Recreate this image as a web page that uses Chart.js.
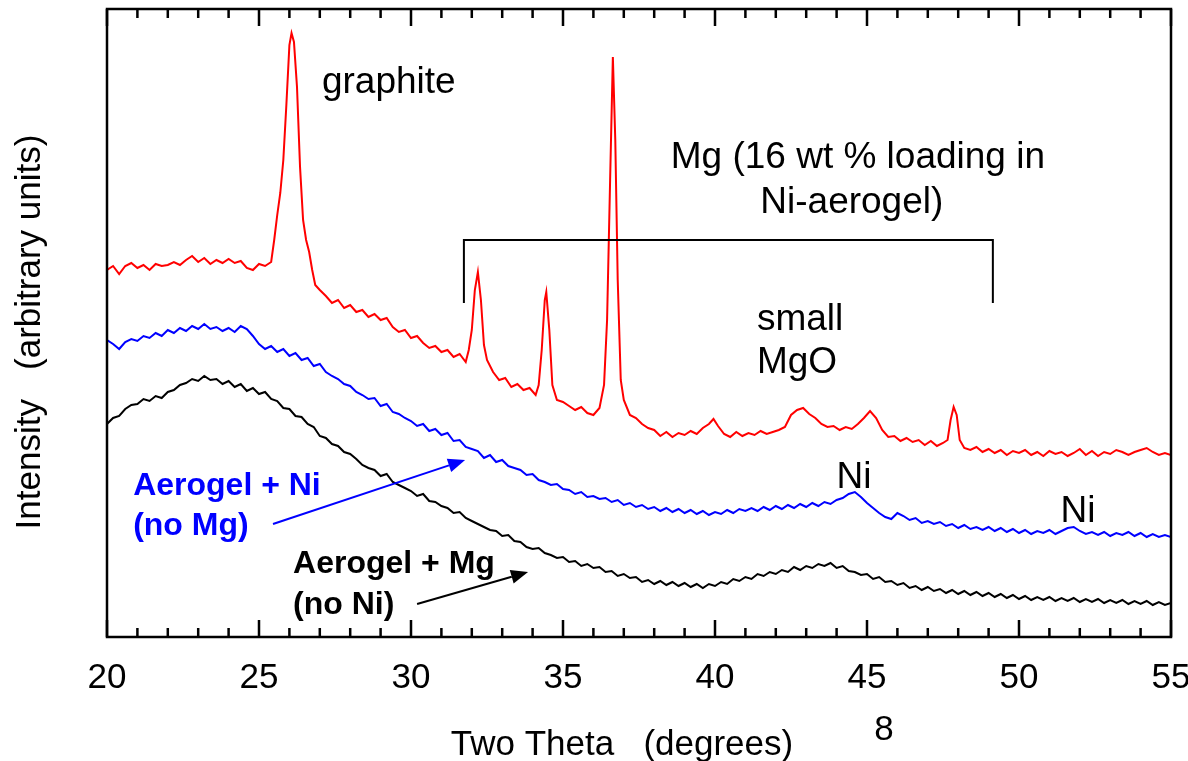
<!DOCTYPE html>
<html>
<head>
<meta charset="utf-8">
<script src="https://cdn.jsdelivr.net/npm/chart.js@4.4.1/dist/chart.umd.min.js"></script>
<style>
  html, body { margin: 0; padding: 0; background: #fff; }
  canvas { display: block; }
</style>
</head>
<body>
<canvas id="xrd" width="1188" height="761"></canvas>
<script>
// Two theta positions (degrees) and intensities (arbitrary units)
const redTheta = [
  20.0,20.2,20.4,20.6,20.8,21.0,21.2,21.4,21.6,21.8,
  22.0,22.2,22.4,22.6,22.8,23.0,23.2,23.4,23.6,23.8,
  24.0,24.2,24.4,24.6,24.8,25.0,25.2,25.4,
  25.5,25.6,25.7,25.8,25.9,26.0,26.07,26.15,26.25,26.35,26.45,26.55,26.65,26.75,26.85,
  27.0,27.2,27.4,27.6,27.8,28.0,28.2,28.4,28.6,28.8,
  29.0,29.2,29.4,29.6,29.8,30.0,30.2,30.4,30.6,30.8,
  31.0,31.2,31.4,31.6,31.8,31.9,32.0,32.1,32.2,32.3,32.4,32.5,32.7,32.9,
  33.1,33.3,33.5,33.7,33.9,34.1,34.2,34.3,34.4,34.45,34.55,34.65,34.8,
  35.0,35.2,35.4,35.6,35.8,36.0,36.2,36.35,36.45,36.55,36.64,36.72,36.8,36.9,
  37.0,37.2,37.4,37.6,37.8,38.0,38.2,38.4,38.6,38.8,
  39.0,39.2,39.4,39.6,39.8,39.95,40.1,40.3,40.5,40.7,40.9,
  41.1,41.3,41.5,41.7,41.9,42.1,42.3,42.5,42.7,42.9,
  43.1,43.3,43.5,43.7,43.9,44.1,44.3,44.5,44.7,44.9,
  45.1,45.3,45.5,45.7,45.9,46.1,46.3,46.5,46.7,46.9,
  47.1,47.3,47.5,47.65,47.75,47.85,47.95,48.05,48.2,48.4,48.6,48.8,
  49.0,49.2,49.4,49.6,49.8,50.0,50.2,50.4,50.6,50.8,
  51.0,51.2,51.4,51.6,51.8,52.0,52.2,52.4,52.6,52.8,
  53.0,53.2,53.4,53.6,53.8,54.0,54.2,54.4,54.6,54.8,55.0
];
const redCounts = [
  366,370,362,370,373,368,371,366,372,370,
  371,374,371,376,380,374,378,372,376,373,
  377,373,375,368,366,372,370,374,
  396,421,443,476,531,591,603,594,549,469,416,396,384,366,351,
  346,340,333,336,328,331,324,326,319,322,
  316,318,309,304,306,298,300,293,288,290,
  284,286,279,282,274,286,306,346,364,336,291,276,264,256,
  258,249,252,246,248,241,251,286,336,344,306,251,236,
  234,230,226,229,223,221,228,251,316,456,579,496,356,256,
  236,221,218,212,208,206,200,204,199,203,
  201,205,202,208,212,217,210,202,199,204,200,
  203,201,205,202,204,206,209,221,226,228,
  222,218,212,209,210,206,209,207,212,218,
  225,218,206,199,200,195,198,194,196,191,
  195,190,193,196,216,229,221,196,188,186,189,184,
  187,183,186,181,185,183,186,181,184,180,
  185,182,184,180,183,187,181,185,180,184,
  182,186,184,181,184,186,188,184,181,183,181
];

// blue and black scans share a 0.2 degree step
const scanTheta = [
  20.0,20.2,20.4,20.6,20.8,21.0,21.2,21.4,21.6,21.8,
  22.0,22.2,22.4,22.6,22.8,23.0,23.2,23.4,23.6,23.8,
  24.0,24.2,24.4,24.6,24.8,25.0,25.2,25.4,25.6,25.8,
  26.0,26.2,26.4,26.6,26.8,27.0,27.2,27.4,27.6,27.8,
  28.0,28.2,28.4,28.6,28.8,29.0,29.2,29.4,29.6,29.8,
  30.0,30.2,30.4,30.6,30.8,31.0,31.2,31.4,31.6,31.8,
  32.0,32.2,32.4,32.6,32.8,33.0,33.2,33.4,33.6,33.8,
  34.0,34.2,34.4,34.6,34.8,35.0,35.2,35.4,35.6,35.8,
  36.0,36.2,36.4,36.6,36.8,37.0,37.2,37.4,37.6,37.8,
  38.0,38.2,38.4,38.6,38.8,39.0,39.2,39.4,39.6,39.8,
  40.0,40.2,40.4,40.6,40.8,41.0,41.2,41.4,41.6,41.8,
  42.0,42.2,42.4,42.6,42.8,43.0,43.2,43.4,43.6,43.8,
  44.0,44.2,44.4,44.6,44.8,45.0,45.2,45.4,45.6,45.8,
  46.0,46.2,46.4,46.6,46.8,47.0,47.2,47.4,47.6,47.8,
  48.0,48.2,48.4,48.6,48.8,49.0,49.2,49.4,49.6,49.8,
  50.0,50.2,50.4,50.6,50.8,51.0,51.2,51.4,51.6,51.8,
  52.0,52.2,52.4,52.6,52.8,53.0,53.2,53.4,53.6,53.8,
  54.0,54.2,54.4,54.6,54.8,55.0
];
const blueCounts = [
  296,292,287,294,297,295,300,298,303,300,
  306,303,308,305,310,307,312,307,309,305,
  308,304,310,307,300,292,287,290,284,287,
  280,283,276,278,270,272,264,260,257,252,
  250,244,241,237,238,230,232,224,222,218,
  215,210,212,205,207,201,203,195,196,189,
  187,185,178,181,174,176,170,168,166,161,
  162,156,154,151,152,147,146,142,144,139,
  140,137,138,134,136,131,133,129,131,127,
  129,125,128,124,127,123,126,122,125,121,
  124,122,126,123,127,125,128,125,129,126,
  130,127,131,128,132,129,133,130,134,132,
  136,138,142,144,139,133,128,123,119,117,
  123,120,116,118,113,115,112,114,110,112,
  108,111,107,109,106,109,105,108,104,107,
  103,106,102,105,103,106,102,105,108,109,
  105,102,104,101,104,100,103,101,104,100,
  103,99,102,99,101,99
];
const blackCounts = [
  212,218,220,227,231,232,237,235,240,238,
  244,246,251,253,257,255,260,256,257,252,
  255,249,252,245,248,242,244,237,235,228,
  227,220,219,212,209,200,198,192,190,184,
  182,177,171,168,166,160,162,154,151,148,
  145,140,142,135,134,130,128,123,124,118,
  115,112,109,106,105,100,101,95,94,89,
  87,88,83,81,78,79,74,75,70,72,
  68,69,64,65,60,62,58,59,54,56,
  52,55,51,54,50,53,49,52,48,52,
  50,54,52,57,55,59,57,62,60,64,
  62,66,64,69,66,70,68,72,70,73,
  68,70,65,64,61,62,57,59,54,55,
  51,53,48,50,46,49,45,47,43,46,
  42,45,41,44,40,43,39,42,38,41,
  37,40,36,39,36,39,35,38,35,38,
  34,37,34,37,33,36,33,36,32,35,
  32,35,31,34,31,33
];

const xTicks = [20, 25, 30, 35, 40, 45, 50, 55];

const FONT = '"Liberation Sans", Arial, Helvetica, sans-serif';

function toPoints(xs, ys) {
  return xs.map((t, i) => ({ x: t, y: ys[i] }));
}

// annotations, anchored in data units
const notes = [
  { text: 'graphite', x: 27.07, y: 543, align: 'left', color: '#000', bold: false },
  { text: 'Mg (16 wt % loading in', x: 44.7, y: 468, align: 'center', color: '#000', bold: false },
  { text: 'Ni-aerogel)', x: 44.5, y: 423, align: 'center', color: '#000', bold: false },
  { text: 'small', x: 41.38, y: 306, align: 'left', color: '#000', bold: false },
  { text: 'MgO', x: 41.38, y: 263, align: 'left', color: '#000', bold: false },
  { text: 'Ni', x: 44.57, y: 148, align: 'center', color: '#000', bold: false },
  { text: 'Ni', x: 51.94, y: 114, align: 'center', color: '#000', bold: false },
  { text: 'Aerogel + Ni', x: 20.86, y: 141, align: 'left', color: '#0000ff', bold: true },
  { text: '(no Mg)', x: 20.86, y: 101, align: 'left', color: '#0000ff', bold: true },
  { text: 'Aerogel + Mg', x: 26.12, y: 63, align: 'left', color: '#000', bold: true },
  { text: '(no Ni)', x: 26.12, y: 22, align: 'left', color: '#000', bold: true }
];
const arrows = [
  { from: [25.46, 112], to: [31.78, 176], color: '#0000ff' },
  { from: [30.20, 32], to: [33.85, 64], color: '#000' }
];
const bracket = { x1: 31.74, x2: 49.14, top: 396, foot: 333 };

const decor = {
  id: 'decor',
  afterDraw(chart) {
    const { ctx, chartArea: a, scales: { x, y } } = chart;
    ctx.save();

    // frame
    ctx.strokeStyle = '#000';
    ctx.lineWidth = 2.5;
    ctx.strokeRect(a.left, a.top, a.right - a.left, a.bottom - a.top);

    // inward ticks on top and bottom
    for (let v = 20; v <= 55; v++) {
      const px = x.getPixelForValue(v);
      const len = v % 5 === 0 ? 17 : 9;
      ctx.beginPath();
      ctx.moveTo(px, a.bottom); ctx.lineTo(px, a.bottom - len);
      ctx.moveTo(px, a.top); ctx.lineTo(px, a.top + len);
      ctx.stroke();
    }

    // bracket over the Mg peaks
    ctx.lineWidth = 2;
    ctx.beginPath();
    ctx.moveTo(x.getPixelForValue(bracket.x1), y.getPixelForValue(bracket.foot));
    ctx.lineTo(x.getPixelForValue(bracket.x1), y.getPixelForValue(bracket.top));
    ctx.lineTo(x.getPixelForValue(bracket.x2), y.getPixelForValue(bracket.top));
    ctx.lineTo(x.getPixelForValue(bracket.x2), y.getPixelForValue(bracket.foot));
    ctx.stroke();

    // arrows
    arrows.forEach(ar => {
      const x0 = x.getPixelForValue(ar.from[0]), y0 = y.getPixelForValue(ar.from[1]);
      const x1 = x.getPixelForValue(ar.to[0]), y1 = y.getPixelForValue(ar.to[1]);
      const ang = Math.atan2(y1 - y0, x1 - x0);
      const hl = 17, hw = 7;
      ctx.strokeStyle = ar.color;
      ctx.fillStyle = ar.color;
      ctx.lineWidth = 2;
      ctx.beginPath();
      ctx.moveTo(x0, y0);
      ctx.lineTo(x1 - hl * Math.cos(ang), y1 - hl * Math.sin(ang));
      ctx.stroke();
      ctx.beginPath();
      ctx.moveTo(x1, y1);
      ctx.lineTo(x1 - hl * Math.cos(ang) + hw * Math.sin(ang), y1 - hl * Math.sin(ang) - hw * Math.cos(ang));
      ctx.lineTo(x1 - hl * Math.cos(ang) - hw * Math.sin(ang), y1 - hl * Math.sin(ang) + hw * Math.cos(ang));
      ctx.closePath();
      ctx.fill();
    });

    // labels
    ctx.textBaseline = 'alphabetic';
    notes.forEach(n => {
      ctx.font = (n.bold ? 'bold 32px ' : '37px ') + FONT;
      ctx.fillStyle = n.color;
      ctx.textAlign = n.align;
      ctx.fillText(n.text, x.getPixelForValue(n.x), y.getPixelForValue(n.y));
    });

    // axis titles and page number
    ctx.fillStyle = '#000';
    ctx.font = '35px ' + FONT;
    ctx.textAlign = 'center';
    ctx.fillText('Two Theta   (degrees)', 622, 755);
    ctx.fillText('8', 884, 740);
    ctx.translate(30, 332);
    ctx.rotate(-Math.PI / 2);
    ctx.textBaseline = 'middle';
    ctx.fillText('Intensity   (arbitrary units)', 0, 0);

    ctx.restore();
  }
};

const line = (data, color) => ({
  data, borderColor: color, borderWidth: 2, pointRadius: 0, tension: 0, fill: false
});

new Chart(document.getElementById('xrd'), {
  type: 'line',
  data: {
    datasets: [
      line(toPoints(redTheta, redCounts), '#ff0000'),
      line(toPoints(scanTheta, blueCounts), '#0000ff'),
      line(toPoints(scanTheta, blackCounts), '#000000')
    ]
  },
  options: {
    responsive: false,
    animation: false,
    layout: { padding: { top: 9, right: 17, left: 0, bottom: 0 } },
    plugins: { legend: { display: false }, tooltip: { enabled: false } },
    scales: {
      x: {
        type: 'linear', min: 20, max: 55,
        afterBuildTicks: s => { s.ticks = xTicks.map(v => ({ value: v })); },
        ticks: { color: '#000', font: { size: 35, family: FONT }, padding: 20, maxRotation: 0 },
        grid: { display: false, drawTicks: false },
        border: { display: false },
        afterFit: s => { s.height = 124; s.paddingLeft = 0; s.paddingRight = 0; }
      },
      y: {
        min: -1, max: 627,
        ticks: { display: false },
        grid: { display: false, drawTicks: false },
        border: { display: false },
        afterFit: s => { s.width = 107; s.paddingTop = 0; s.paddingBottom = 0; }
      }
    }
  },
  plugins: [decor]
});
</script>
</body>
</html>
